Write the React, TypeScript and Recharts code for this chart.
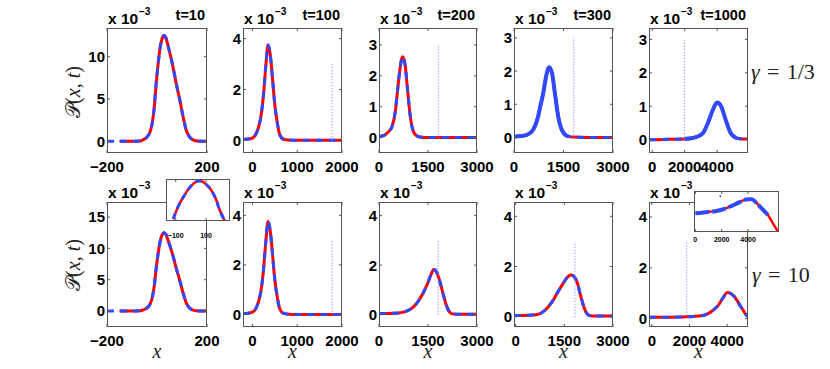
import React from "react";
import { LineChart, Line, XAxis, YAxis, ReferenceLine } from "recharts";

// ---- data (P in units of 1e-3) ----
// t=10 (same curve in both rows)
const x10 = [-200, -150, -100, -70, -56, -40, -29, -20, -12, -3, 5, 12, 20, 28, 36, 45, 55, 64, 75, 91, 105, 117, 130, 144, 160, 180, 200];
const p10 = [0, 0, 0, 0.03, 0.16, 0.5, 1.0, 2.0, 3.7, 6.9, 9.3, 11.0, 12.1, 12.5, 12.2, 11.2, 10.0, 8.8, 7.1, 4.9, 2.8, 1.3, 0.5, 0.16, 0.03, 0, 0];
// t=100 (same curve in both rows)
const x100 = [-210, -100, 0, 50, 100, 150, 200, 250, 300, 350, 400, 450, 500, 550, 600, 650, 700, 800, 1000, 1500, 2000];
const p100 = [0.04, 0.05, 0.09, 0.16, 0.33, 0.6, 1.05, 1.85, 2.95, 3.75, 3.35, 2.4, 1.4, 0.75, 0.28, 0.1, 0.04, 0.01, 0, 0, 0];
// gamma = 1/3
const x200a = [0, 100, 200, 300, 400, 500, 570, 640, 700, 730, 760, 800, 870, 950, 1050, 1150, 1250, 1500, 2000, 2500, 3000];
const p200a = [0.03, 0.05, 0.1, 0.2, 0.36, 0.85, 1.55, 2.2, 2.58, 2.62, 2.55, 2.35, 1.6, 0.75, 0.2, 0.06, 0.02, 0, 0, 0, 0];
const x300a = [0, 200, 400, 580, 730, 800, 885, 985, 1065, 1150, 1240, 1340, 1420, 1475, 1550, 1650, 1800, 2200, 3000];
const p300a = [0.02, 0.04, 0.08, 0.23, 0.63, 0.95, 1.33, 1.9, 2.12, 1.95, 1.33, 0.63, 0.3, 0.18, 0.08, 0.03, 0.01, 0, 0];
const x1000a = [-200, 0, 1000, 2000, 2400, 2720, 2950, 3130, 3430, 3740, 3900, 4010, 4130, 4260, 4520, 4830, 5180, 5590, 5900];
const p1000a = [0, 0, 0.01, 0.02, 0.04, 0.08, 0.13, 0.2, 0.5, 0.9, 1.06, 1.11, 1.08, 0.98, 0.6, 0.2, 0.05, 0.02, 0.02];
// gamma = 10
const x200b = [0, 300, 600, 800, 1000, 1150, 1300, 1400, 1500, 1600, 1680, 1750, 1850, 1950, 2050, 2150, 2250, 2400, 3000];
const p200b = [0.05, 0.05, 0.07, 0.12, 0.25, 0.45, 0.75, 1.0, 1.3, 1.65, 1.82, 1.75, 1.4, 0.9, 0.42, 0.12, 0.03, 0.02, 0.02];
const x300b = [-50, 400, 700, 900, 1100, 1300, 1450, 1600, 1700, 1800, 1900, 2000, 2100, 2200, 2300, 2500, 3000];
const p300b = [0.05, 0.06, 0.1, 0.25, 0.55, 0.98, 1.3, 1.58, 1.66, 1.6, 1.35, 0.85, 0.4, 0.12, 0.04, 0.03, 0.03];
const x1000b = [-150, 500, 1500, 2500, 2900, 3200, 3500, 3800, 4000, 4200, 4450, 4650, 4850, 5000, 5100];
const p1000b = [0.05, 0.05, 0.06, 0.1, 0.17, 0.3, 0.5, 0.85, 1.03, 0.98, 0.8, 0.55, 0.32, 0.15, 0.08];
// dotted markers (x position, height 3e-3)
const markX = { t100: 1780, t200a: 1820, t300a: 1810, t1000a: 1990, t200b: 1810, t300b: 1827, t1000b: 1840 };
const MARK_TOP = 3;
// insets (log10 P)
const xIn1 = [-116, -100, -80, -60, -38, -20, 0, 20, 40, 60, 80, 100, 129, 150, 170, 184, 200, 217, 232];
const lIn1 = [-6.0, -5.3, -4.55, -3.95, -3.4, -2.95, -2.55, -2.25, -2.05, -2.0, -2.1, -2.35, -2.85, -3.4, -4.1, -4.8, -5.4, -6.0, -6.3];
const xIn2 = [0, 500, 1000, 1500, 2000, 2500, 3000, 3500, 4000, 4300, 4600, 4900, 5200, 5500, 5800, 6100, 6400];
const lIn2 = [-3.9, -3.87, -3.82, -3.78, -3.7, -3.56, -3.39, -3.2, -3.08, -3.08, -3.27, -3.51, -3.75, -3.99, -4.38, -4.76, -5.1];
const outlierIn2 = [{ x: 1900, p: -2.9 }];

const AX = "#555";
const RED = "#ff0000";
const BLUE = "#3049ff";
const DOT = "#7d8cff";
const XTM = 8;
const YTM = 2;

const fmt = (v: number) => (v < 0 ? "\u2212" + Math.abs(v) : String(v));
const pts = (xs: number[], ps: number[]) => xs.map((x, i) => ({ x, p: ps[i] }));

const XTick = (props: any) => {
  const { x, y, payload, h, fs, tm } = props;
  const ay = y - tm;
  return (
    <g>
      <line x1={x} x2={x} y1={ay} y2={ay - 3} stroke={AX} />
      <line x1={x} x2={x} y1={ay - h} y2={ay - h + 3} stroke={AX} />
      <text x={x} y={y} dy="0.75em" textAnchor="middle" fontFamily="'Liberation Sans', Arial, sans-serif" fontWeight={700} fontSize={fs} fill="#000">
        {fmt(payload.value)}
      </text>
    </g>
  );
};

const YTick = (props: any) => {
  const { x, y, payload, w } = props;
  const ax = x + YTM;
  return (
    <g>
      <line x1={ax} x2={ax + 3} y1={y} y2={y} stroke={AX} />
      <line x1={ax + w} x2={ax + w - 3} y1={y} y2={y} stroke={AX} />
      <text x={x} y={y} dy="0.36em" textAnchor="end" fontFamily="'Liberation Sans', Arial, sans-serif" fontWeight={700} fontSize={15} fill="#000">
        {fmt(payload.value)}
      </text>
    </g>
  );
};

function Panel(props: any) {
  const { left, top, w, h, xd, yd, xt, yt, xs, ps, redFrom = 0, vx, dense } = props;
  const mL = 45, mR = 30, mT = 6, mB = 28;
  const all = pts(xs, ps);
  const red = all.slice(redFrom);
  const solid = dense ? all.filter((d) => d.x >= dense[0] && d.x <= dense[1]) : null;
  return (
    <>
      <div style={{ position: "absolute", left: left - mL, top: top - mT }}>
        <LineChart width={w + mL + mR} height={h + mT + mB} margin={{ left: mL - 1, right: mR, top: mT, bottom: mB - 1 }}>
          <XAxis type="number" dataKey="x" domain={xd} ticks={xt} interval={0} allowDataOverflow height={1} tickSize={0} tickMargin={XTM} axisLine={false} tickLine={false} tick={(p: any) => <XTick {...p} h={h} fs={15} tm={XTM} />} />
          <YAxis type="number" domain={yd} ticks={yt} interval={0} allowDataOverflow width={1} tickSize={0} tickMargin={YTM} axisLine={false} tickLine={false} tick={(p: any) => <YTick {...p} w={w} />} />
          <Line data={red} dataKey="p" type="monotone" stroke={RED} strokeWidth={3} dot={false} activeDot={false} isAnimationActive={false} />
          <Line data={all} dataKey="p" type="monotone" stroke={BLUE} strokeWidth={3} strokeDasharray="7 6" dot={false} activeDot={false} isAnimationActive={false} />
          {solid && <Line data={solid} dataKey="p" type="monotone" stroke={BLUE} strokeWidth={4} dot={false} activeDot={false} isAnimationActive={false} />}
          {vx != null && (
            <ReferenceLine segment={[{ x: vx, y: 0 }, { x: vx, y: MARK_TOP }]} stroke={DOT} strokeWidth={1.2} strokeDasharray="1 2" />
          )}
        </LineChart>
      </div>
      <div style={{ position: "absolute", left, top, width: w, height: h, border: `1px solid ${AX}`, boxSizing: "border-box" }} />
    </>
  );
}

function Inset(props: any) {
  const { left, top, w, h, xd, yd, xt, tm, blue, red, outlier, blueDash, blueW } = props;
  const mL = 10, mR = 14, mT = 4, mB = 24;
  return (
    <>
      <div style={{ position: "absolute", left, top, width: w, height: h, background: "#fff" }} />
      <div style={{ position: "absolute", left: left - mL, top: top - mT }}>
        <LineChart width={w + mL + mR} height={h + mT + mB} margin={{ left: mL, right: mR, top: mT, bottom: mB - 1 }}>
          <XAxis type="number" dataKey="x" domain={xd} ticks={xt} interval={0} allowDataOverflow height={1} tickSize={0} tickMargin={tm} axisLine={false} tickLine={false} tick={(p: any) => <XTick {...p} h={h} fs={7} tm={tm} />} />
          <YAxis type="number" domain={yd} ticks={[]} allowDataOverflow width={0} axisLine={false} tickLine={false} tick={false} />
          <Line data={red} dataKey="p" type="monotone" stroke={RED} strokeWidth={2.5} dot={false} activeDot={false} isAnimationActive={false} />
          <Line data={blue} dataKey="p" type="monotone" stroke={BLUE} strokeWidth={blueW} strokeDasharray={blueDash} dot={false} activeDot={false} isAnimationActive={false} />
          {outlier && (
            <Line data={outlier} dataKey="p" stroke="none" dot={{ r: 1, fill: BLUE, stroke: "none" }} activeDot={false} isAnimationActive={false} />
          )}
        </LineChart>
      </div>
      <div style={{ position: "absolute", left, top, width: w, height: h, border: `1px solid ${AX}`, boxSizing: "border-box" }} />
    </>
  );
}

const COLS = [107, 243, 379, 514, 649];
const WID = [100, 99, 98, 99, 99];
const ROWS = [28, 202];
const H = 125;

const TITLES = ["t=10", "t=100", "t=200", "t=300", "t=1000"];

export default function App() {
  const serif = "'Liberation Serif', 'DejaVu Serif', serif";
  const sans = "'Liberation Sans', Arial, sans-serif";
  const in1 = pts(xIn1, lIn1);
  const in2 = pts(xIn2, lIn2);
  return (
    <div style={{ position: "absolute", left: 0, top: 0, width: 830, height: 369, background: "#fff", overflow: "hidden" }}>
      {/* row 1: gamma = 1/3 */}
      <Panel left={COLS[0]} top={ROWS[0]} w={WID[0]} h={H} xd={[-200, 200]} yd={[-1.4, 13.4]} xt={[-200, 200]} yt={[0, 5, 10]} xs={x10} ps={p10} redFrom={1} />
      <Panel left={COLS[1]} top={ROWS[0]} w={WID[1]} h={H} xd={[-210, 2000]} yd={[-0.5, 4.42]} xt={[0, 1000, 2000]} yt={[0, 2, 4]} xs={x100} ps={p100} vx={markX.t100} />
      <Panel left={COLS[2]} top={ROWS[0]} w={WID[2]} h={H} xd={[0, 3000]} yd={[-0.5, 3.55]} xt={[0, 1500, 3000]} yt={[0, 1, 2, 3]} xs={x200a} ps={p200a} vx={markX.t200a} />
      <Panel left={COLS[3]} top={ROWS[0]} w={WID[3]} h={H} xd={[0, 3000]} yd={[-0.47, 3.3]} xt={[0, 1500, 3000]} yt={[0, 1, 2, 3]} xs={x300a} ps={p300a} vx={markX.t300a} dense={[0, 1750]} />
      <Panel left={COLS[4]} top={ROWS[0]} w={WID[4]} h={H} xd={[-200, 5900]} yd={[-0.4, 3.34]} xt={[0, 2000, 4000]} yt={[0, 1, 2, 3]} xs={x1000a} ps={p1000a} vx={markX.t1000a} dense={[1900, 5300]} />
      {/* row 2: gamma = 10 */}
      <Panel left={COLS[0]} top={ROWS[1]} w={WID[0]} h={H} xd={[-200, 200]} yd={[-2.55, 17.4]} xt={[-200, 200]} yt={[0, 5, 10, 15]} xs={x10} ps={p10} redFrom={1} />
      <Panel left={COLS[1]} top={ROWS[1]} w={WID[1]} h={H} xd={[-210, 2000]} yd={[-0.51, 4.54]} xt={[0, 1000, 2000]} yt={[0, 2, 4]} xs={x100} ps={p100} vx={markX.t100} />
      <Panel left={COLS[2]} top={ROWS[1]} w={WID[2]} h={H} xd={[0, 3000]} yd={[-0.5, 4.55]} xt={[0, 1500, 3000]} yt={[0, 2, 4]} xs={x200b} ps={p200b} vx={markX.t200b} />
      <Panel left={COLS[3]} top={ROWS[1]} w={WID[3]} h={H} xd={[-50, 3000]} yd={[-0.41, 4.57]} xt={[0, 1500, 3000]} yt={[0, 2, 4]} xs={x300b} ps={p300b} vx={markX.t300b} />
      <Panel left={COLS[4]} top={ROWS[1]} w={WID[4]} h={H} xd={[-150, 5100]} yd={[-0.33, 4.59]} xt={[0, 2000, 4000]} yt={[0, 2, 4]} xs={x1000b} ps={p1000b} vx={markX.t1000b} />

      <Inset left={166} top={179} w={64} h={42} xd={[-164, 258]} yd={[-6.2, -1.8]} xt={[-100, 100]} tm={12} red={in1} blue={in1.slice(0, -1)} blueDash="6 5" blueW={3} />
      <Inset left={694} top={191} w={85} h={41} xd={[-100, 6350]} yd={[-5, -2.6]} xt={[0, 2000, 4000]} tm={5} red={in2.slice(2)} blue={in2.slice(0, 14)} outlier={outlierIn2} blueDash="14 3" blueW={4} />

      <svg width={830} height={369} style={{ position: "absolute", left: 0, top: 0, pointerEvents: "none" }}>
        {COLS.map((c, i) => (
          <g key={"r1" + i}>
            <text x={c + 1} y={24} fontFamily={sans} fontWeight={700} fontSize={15.5}>x 10</text>
            <text x={c + 32} y={15} fontFamily={sans} fontWeight={700} fontSize={10}>{"\u22123"}</text>
            <text x={c + WID[i] - 2} y={20} textAnchor="end" fontFamily={sans} fontWeight={700} fontSize={14.5}>{TITLES[i]}</text>
          </g>
        ))}
        {COLS.map((c, i) => (
          <g key={"r2" + i}>
            <text x={c + 1} y={198} fontFamily={sans} fontWeight={700} fontSize={15.5}>x 10</text>
            <text x={c + 32} y={189} fontFamily={sans} fontWeight={700} fontSize={10}>{"\u22123"}</text>
            <text x={c + WID[i] / 2} y={358} textAnchor="middle" fontFamily={serif} fontStyle="italic" fontSize={20} fill="#222">x</text>
          </g>
        ))}
        {[92, 265].map((cy) => (
          <text key={cy} transform={`translate(80,${cy}) rotate(-90)`} textAnchor="middle" fontFamily={serif} fontSize={20} fill="#222">
            <tspan>{"\u{1D4AB}"}</tspan>
            <tspan>(</tspan>
            <tspan fontStyle="italic">x</tspan>
            <tspan>, </tspan>
            <tspan fontStyle="italic">t</tspan>
            <tspan>)</tspan>
          </text>
        ))}
        <text x={751} y={79} fontFamily={serif} fontSize={22} fill="#222">
          <tspan fontStyle="italic">{"\u03b3"}</tspan>
          <tspan>{"\u2004=\u20041/3"}</tspan>
        </text>
        <text x={752} y={282} fontFamily={serif} fontSize={22} fill="#222">
          <tspan fontStyle="italic">{"\u03b3"}</tspan>
          <tspan>{"\u2004=\u200410"}</tspan>
        </text>
      </svg>
    </div>
  );
}
